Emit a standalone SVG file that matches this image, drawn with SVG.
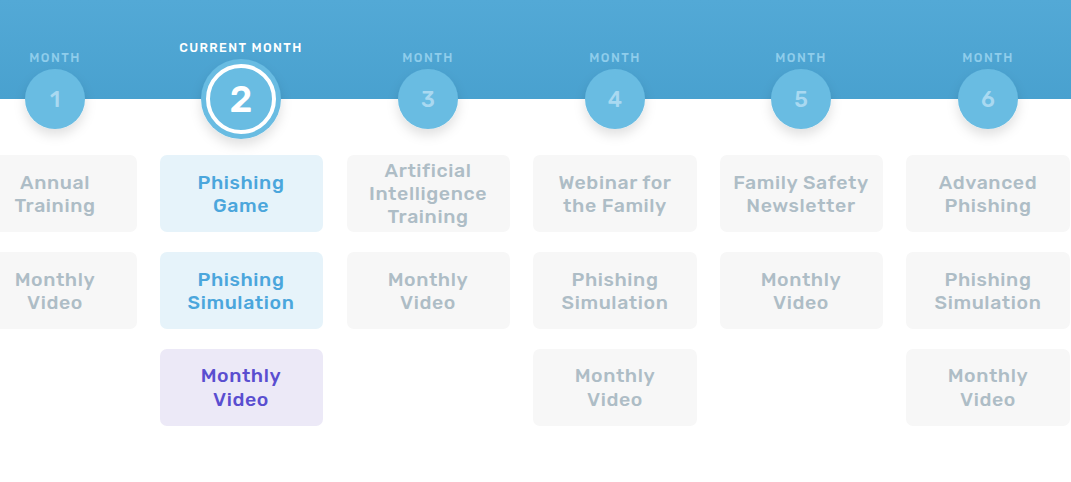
<svg xmlns="http://www.w3.org/2000/svg" width="1071" height="482" viewBox="0 0 1071 482">
<defs>
<linearGradient id="hdr" x1="0" y1="0" x2="0" y2="1">
<stop offset="0" stop-color="#53A9D6"/>
<stop offset="1" stop-color="#49A1CF"/>
</linearGradient>
<filter id="sh" x="-50%" y="-50%" width="200%" height="200%">
<feDropShadow dx="0" dy="6" stdDeviation="6" flood-color="#000" flood-opacity="0.12"/>
</filter>
<style>
.lbl{font-family:"Rubik","Open Sans","Noto Sans",sans-serif;font-size:12.5px;font-weight:500;letter-spacing:1.4px;fill:#8FCDEB;text-anchor:middle}
.cur{fill:#FFFFFF}
.num{font-family:"Rubik","Open Sans","Noto Sans",sans-serif;font-size:22px;font-weight:500;fill:#A9D9F1;text-anchor:middle}
.circ{fill:#69BCE2;filter:url(#sh)}
.box{fill:#F7F7F7}
.boxb{fill:#E6F3FA}
.boxp{fill:#ECE9F7}
.t{font-family:"Rubik","Open Sans","Noto Sans",sans-serif;font-size:19.5px;font-weight:500;letter-spacing:0.6px;text-anchor:middle;fill:#AEBDC6}
.tb{fill:#4BA6DC}
.tp{fill:#5A4ED0}
</style>
</defs>
<rect x="0" y="0" width="1071" height="99" fill="url(#hdr)"/>
<g id="month1">
<text class="lbl" x="55" y="62">MONTH</text>
<circle class="circ" cx="55" cy="99" r="30"/>
<text class="num" x="55" y="107">1</text>
</g>
<g id="month2">
<text class="lbl cur" x="241" y="52">CURRENT MONTH</text>
<circle class="circ" cx="241" cy="99" r="40"/>
<circle cx="241" cy="99" r="33" fill="none" stroke="#FFFFFF" stroke-width="4"/>
<text x="241" y="112" text-anchor="middle" font-family="Rubik,'Open Sans','Noto Sans',sans-serif" font-size="37" font-weight="500" fill="#FFFFFF">2</text>
</g>
<g id="month3">
<text class="lbl" x="428" y="62">MONTH</text>
<circle class="circ" cx="428" cy="99" r="30"/>
<text class="num" x="428" y="107">3</text>
</g>
<g id="month4">
<text class="lbl" x="615" y="62">MONTH</text>
<circle class="circ" cx="615" cy="99" r="30"/>
<text class="num" x="615" y="107">4</text>
</g>
<g id="month5">
<text class="lbl" x="801" y="62">MONTH</text>
<circle class="circ" cx="801" cy="99" r="30"/>
<text class="num" x="801" y="107">5</text>
</g>
<g id="month6">
<text class="lbl" x="988" y="62">MONTH</text>
<circle class="circ" cx="988" cy="99" r="30"/>
<text class="num" x="988" y="107">6</text>
</g>
<g id="connectors"></g>
<g id="c1r1"><rect class="box" x="-27" y="155" width="164" height="77" rx="7"/>
<text class="t" x="55" y="189">Annual</text><text class="t" x="55" y="212">Training</text></g>
<g id="c1r2"><rect class="box" x="-27" y="252" width="164" height="77" rx="7"/>
<text class="t" x="55" y="286">Monthly</text><text class="t" x="55" y="309">Video</text></g>
<g id="c2r1"><rect class="boxb" x="160" y="155" width="163" height="77" rx="7"/>
<text class="t tb" x="241" y="189">Phishing</text><text class="t tb" x="241" y="212">Game</text></g>
<g id="c2r2"><rect class="boxb" x="160" y="252" width="163" height="77" rx="7"/>
<text class="t tb" x="241" y="286">Phishing</text><text class="t tb" x="241" y="309">Simulation</text></g>
<g id="c2r3"><rect class="boxp" x="160" y="349" width="163" height="77" rx="7"/>
<text class="t tp" x="241" y="382">Monthly</text><text class="t tp" x="241" y="406">Video</text></g>
<g id="c3r1"><rect class="box" x="347" y="155" width="163" height="77" rx="7"/>
<text class="t" x="428" y="177">Artificial</text><text class="t" x="428" y="200">Intelligence</text><text class="t" x="428" y="223">Training</text></g>
<g id="c3r2"><rect class="box" x="347" y="252" width="163" height="77" rx="7"/>
<text class="t" x="428" y="286">Monthly</text><text class="t" x="428" y="309">Video</text></g>
<g id="c4r1"><rect class="box" x="533" y="155" width="164" height="77" rx="7"/>
<text class="t" x="615" y="189">Webinar for</text><text class="t" x="615" y="212">the Family</text></g>
<g id="c4r2"><rect class="box" x="533" y="252" width="164" height="77" rx="7"/>
<text class="t" x="615" y="286">Phishing</text><text class="t" x="615" y="309">Simulation</text></g>
<g id="c4r3"><rect class="box" x="533" y="349" width="164" height="77" rx="7"/>
<text class="t" x="615" y="382">Monthly</text><text class="t" x="615" y="406">Video</text></g>
<g id="c5r1"><rect class="box" x="720" y="155" width="163" height="77" rx="7"/>
<text class="t" x="801" y="189">Family Safety</text><text class="t" x="801" y="212">Newsletter</text></g>
<g id="c5r2"><rect class="box" x="720" y="252" width="163" height="77" rx="7"/>
<text class="t" x="801" y="286">Monthly</text><text class="t" x="801" y="309">Video</text></g>
<g id="c6r1"><rect class="box" x="906" y="155" width="164" height="77" rx="7"/>
<text class="t" x="988" y="189">Advanced</text><text class="t" x="988" y="212">Phishing</text></g>
<g id="c6r2"><rect class="box" x="906" y="252" width="164" height="77" rx="7"/>
<text class="t" x="988" y="286">Phishing</text><text class="t" x="988" y="309">Simulation</text></g>
<g id="c6r3"><rect class="box" x="906" y="349" width="164" height="77" rx="7"/>
<text class="t" x="988" y="382">Monthly</text><text class="t" x="988" y="406">Video</text></g>
</svg>
